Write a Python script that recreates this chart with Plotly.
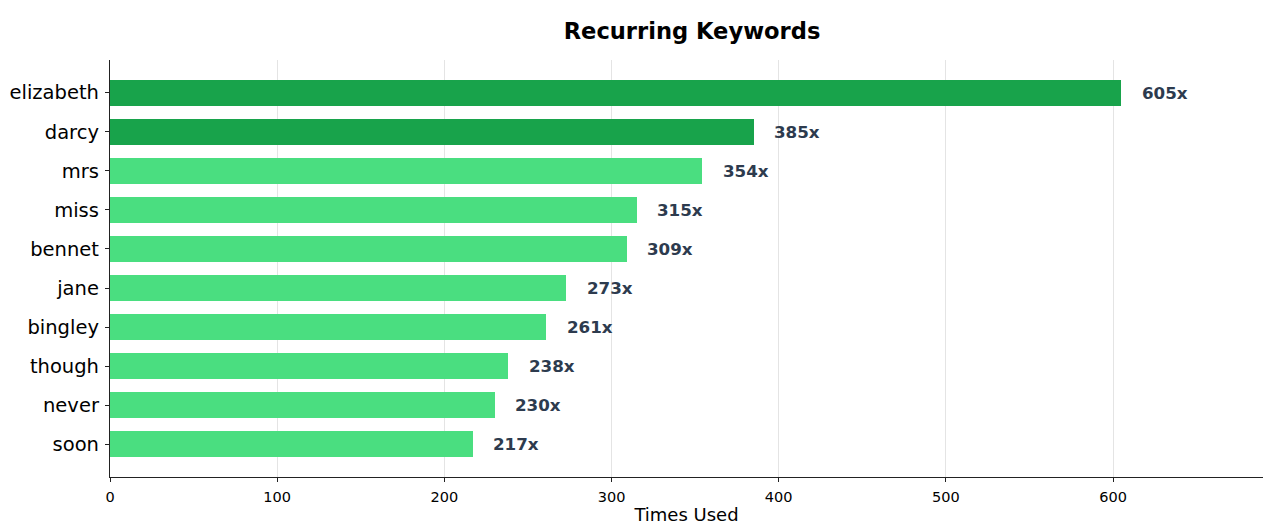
import plotly.graph_objects as go

# Keyword frequency counts
keywords = ["elizabeth", "darcy", "mrs", "miss", "bennet", "jane", "bingley", "though", "never", "soon"]
counts = [605, 385, 354, 315, 309, 273, 261, 238, 230, 217]
highlight_top = 2

DARK_GREEN = "#18a34b"
LIGHT_GREEN = "#4ade80"
colors = [DARK_GREEN if i < highlight_top else LIGHT_GREEN for i in range(len(keywords))]

font_family = "DejaVu Sans"
x_max = max(counts) * 1.14
label_offset = max(counts) * 0.0185

fig = go.Figure()
fig.add_trace(go.Bar(
    x=counts,
    y=keywords,
    orientation="h",
    marker=dict(color=colors, line=dict(width=0)),
    width=0.67,
    hoverinfo="x+y",
))

for kw, c in zip(keywords, counts):
    fig.add_annotation(
        x=c + label_offset, y=kw, text=f"<b>{c}x</b>",
        xanchor="left", yanchor="middle", showarrow=False,
        font=dict(family=font_family, size=16.7, color="#2d3b4e"),
    )

n = len(keywords)
fig.update_layout(
    width=1264, height=525,
    margin=dict(l=110, r=1, t=60, b=48),
    paper_bgcolor="white", plot_bgcolor="white",
    font=dict(family=font_family, color="black"),
    showlegend=False,
    bargap=0,
    title=dict(
        text="<b>Recurring Keywords</b>",
        x=692 / 1264, xanchor="center",
        y=1 - 31 / 525, yanchor="middle", yref="container",
        font=dict(family=font_family, size=22.6, color="black"),
    ),
    xaxis=dict(
        range=[0, x_max],
        automargin=False,
        tickmode="linear", tick0=0, dtick=100,
        showgrid=True, gridcolor="#e4e4e4", gridwidth=1,
        zeroline=False,
        showline=True, linecolor="#222222", linewidth=1.3,
        ticks="outside", ticklen=4, tickcolor="#222222",
        ticklabelstandoff=2,
        tickfont=dict(family=font_family, size=14.5, color="black"),
        title=dict(text="Times Used", font=dict(family=font_family, size=18, color="black"), standoff=9),
    ),
    yaxis=dict(
        range=[n - 1 + 0.835, -0.835],
        automargin=False,
        showgrid=False, zeroline=False,
        showline=True, linecolor="#222222", linewidth=1.3,
        ticks="outside", ticklen=4, tickcolor="#222222",
        ticklabelstandoff=2,
        tickfont=dict(family=font_family, size=19.5, color="black"),
    ),
)

fig.write_html("out.html")
